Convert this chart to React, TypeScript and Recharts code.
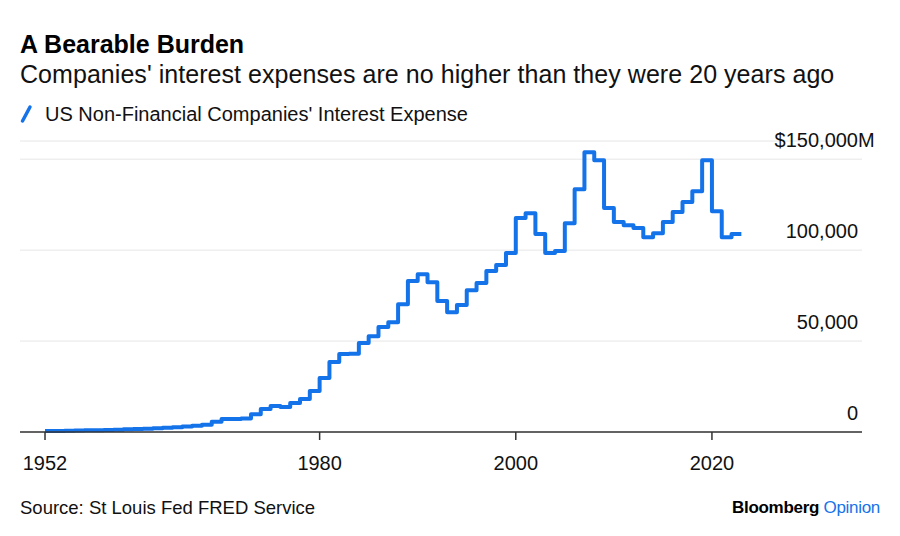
import React from "react";
import { LineChart, Line, XAxis, YAxis, CartesianGrid } from "recharts";

const years = [
  1952, 1953, 1954, 1955, 1956, 1957, 1958, 1959, 1960, 1961, 1962, 1963,
  1964, 1965, 1966, 1967, 1968, 1969, 1970, 1971, 1972, 1973, 1974, 1975,
  1976, 1977, 1978, 1979, 1980, 1981, 1982, 1983, 1984, 1985, 1986, 1987,
  1988, 1989, 1990, 1991, 1992, 1993, 1994, 1995, 1996, 1997, 1998, 1999,
  2000, 2001, 2002, 2003, 2004, 2005, 2006, 2007, 2008, 2009, 2010, 2011,
  2012, 2013, 2014, 2015, 2016, 2017, 2018, 2019, 2020, 2021, 2022, 2023,
];

const interestExpense = [
  500, 600, 700, 800, 900, 1000, 1100, 1300, 1500, 1600, 1800, 2000,
  2300, 2600, 3000, 3400, 4000, 5700, 7100, 7200, 7400, 9800, 12600, 14300,
  13800, 15900, 18100, 22500, 29700, 38500, 42900, 43000, 48900, 52700, 57700, 60400,
  70300, 83000, 86800, 82400, 72000, 65900, 69800, 78000, 81900, 88500, 91800, 98400,
  117600, 120300, 108800, 98400, 99500, 114800, 133500, 153800, 149400, 123100, 115400, 113700,
  112100, 107100, 109300, 115400, 120900, 126400, 132400, 149400, 121400, 107100, 108800, 108800,
];

const xTicks = [1952, 1980, 2000, 2020];
const yTicks = [0, 50000, 100000, 150000];

const data = years.map((y, i) => ({ year: y, value: interestExpense[i] }));

const FONT = "'Liberation Sans', Arial, sans-serif";
const BLUE = "#1573ea";

const fmt = (v: number) => v.toString().replace(/\B(?=(\d{3})+(?!\d))/g, ",");

const YTick = (props: any) => {
  const { y, payload } = props;
  const v = payload.value as number;
  const top = v === yTicks[yTicks.length - 1];
  return (
    <g>
      <text x={858} y={y - 12.5} textAnchor="end" fontFamily={FONT} fontSize={20} fill="#111">
        {top ? "$" + fmt(v) : fmt(v)}
      </text>
      {top && (
        <text x={858} y={y - 12.5} textAnchor="start" fontFamily={FONT} fontSize={20} fill="#111">
          M
        </text>
      )}
    </g>
  );
};

const XTick = (props: any) => {
  const { x, payload } = props;
  return (
    <text x={x} y={470} textAnchor="middle" fontFamily={FONT} fontSize={20} fill="#111">
      {payload.value}
    </text>
  );
};

export default function App() {
  return (
    <div style={{ position: "fixed", left: 0, top: 0, width: 900, height: 536, background: "#fff" }}>
      <LineChart
        width={900}
        height={536}
        data={data}
        margin={{ top: 141, right: 37, bottom: 74, left: 20 }}
      >
        <CartesianGrid vertical={false} stroke="#e6e6e6" strokeWidth={1} />
        <XAxis
          dataKey="year"
          type="number"
          domain={[1949.45, 2035.3]}
          allowDataOverflow
          ticks={xTicks}
          height={30}
          tick={<XTick />}
          tickSize={8}
          tickLine={{ stroke: "#333", strokeWidth: 1.5 }}
          axisLine={{ stroke: "#333", strokeWidth: 1.5 }}
          interval={0}
        />
        <YAxis
          orientation="right"
          type="number"
          domain={[0, 160000]}
          ticks={yTicks}
          width={1}
          axisLine={false}
          tickLine={false}
          tick={<YTick />}
          interval={0}
        />
        <Line
          type="stepAfter"
          dataKey="value"
          stroke={BLUE}
          strokeWidth={4}
          dot={false}
          strokeLinejoin="round"
          isAnimationActive={false}
        />
      </LineChart>
      <svg
        width={900}
        height={536}
        style={{ position: "absolute", left: 0, top: 0, pointerEvents: "none" }}
      >
        <text x={20} y={53} fontFamily={FONT} fontSize={25} fontWeight="bold" fill="#000" letterSpacing={0}>
          A Bearable Burden
        </text>
        <text x={20} y={83} fontFamily={FONT} fontSize={25} fill="#111" letterSpacing={0.05}>
          Companies' interest expenses are no higher than they were 20 years ago
        </text>
        <line x1={22.5} y1={121} x2={30} y2={107} stroke={BLUE} strokeWidth={3.5} strokeLinecap="round" />
        <text x={45} y={121} fontFamily={FONT} fontSize={20} fill="#111">
          US Non-Financial Companies' Interest Expense
        </text>
        <text x={20} y={514} fontFamily={FONT} fontSize={18.5} fill="#111">
          Source: St Louis Fed FRED Service
        </text>
        <text x={880} y={513} textAnchor="end" fontFamily={FONT} fontSize={17} letterSpacing={-0.3}>
          <tspan fontWeight="bold" fill="#000">Bloomberg</tspan>
          <tspan fill={BLUE}> Opinion</tspan>
        </text>
      </svg>
    </div>
  );
}
